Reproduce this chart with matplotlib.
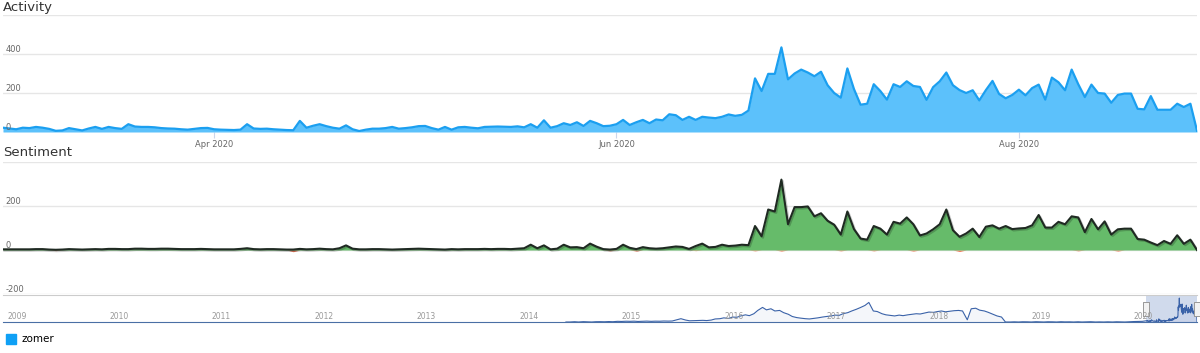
import numpy as np
import pandas as pd
import matplotlib
matplotlib.use('Agg')
import matplotlib.pyplot as plt
import matplotlib.patheffects as pe
from matplotlib.patches import Patch

# ---- data ----
dates = pd.date_range('2020-02-29', '2020-08-28', freq='D')

activity = [22, 18, 14, 22, 20, 26, 22, 16, 6, 8,
            20, 14, 8, 18, 26, 16, 26, 20, 16, 40,
            28, 26, 26, 24, 20, 18, 17, 14, 12, 16,
            20, 21, 14, 12, 11, 10, 12, 40, 18, 16,
            17, 14, 12, 10, 9, 57, 22, 32, 40, 30,
            22, 17, 34, 14, 5, 12, 17, 17, 20, 26,
            17, 20, 24, 30, 31, 20, 12, 26, 12, 24,
            26, 22, 19, 26, 27, 28, 27, 26, 29, 24,
            40, 22, 60, 22, 30, 45, 36, 50, 31, 57,
            45, 30, 32, 40, 62, 36, 50, 62, 45, 64,
            60, 91, 86, 62, 78, 62, 78, 74, 71, 78,
            90, 83, 88, 110, 275, 210, 298, 298, 434, 270,
            300, 320, 305, 286, 309, 240, 200, 176, 326, 220,
            140, 145, 245, 210, 166, 245, 231, 260, 236, 231,
            165, 230, 260, 305, 240, 215, 200, 214, 162, 215,
            262, 195, 173, 190, 217, 188, 225, 243, 166, 279,
            255, 214, 320, 245, 179, 243, 200, 197, 150, 190,
            197, 197, 119, 116, 184, 114, 114, 114, 145, 128,
            145, 7]

positive = [3, 3, 3, 3, 3, 4, 4, 2, 1, 2,
            4, 3, 2, 3, 4, 3, 5, 5, 4, 4,
            6, 6, 5, 5, 6, 6, 5, 4, 4, 4,
            5, 4, 3, 3, 3, 3, 5, 8, 4, 3,
            4, 4, 3, 2, 2, 5, 3, 4, 6, 4,
            3, 8, 21, 6, 3, 3, 4, 4, 3, 2,
            3, 4, 5, 6, 5, 4, 3, 2, 4, 3,
            4, 4, 4, 5, 4, 5, 5, 4, 6, 8,
            24, 8, 21, 3, 6, 24, 12, 13, 8, 29,
            15, 4, 2, 5, 24, 10, 4, 13, 8, 6,
            8, 12, 16, 14, 5, 18, 29, 12, 14, 24,
            18, 20, 24, 22, 109, 62, 184, 175, 320, 117,
            195, 195, 198, 153, 167, 133, 115, 70, 175, 95,
            52, 47, 109, 97, 70, 128, 120, 148, 117, 66,
            75, 94, 117, 184, 90, 60, 75, 97, 59, 106,
            112, 97, 109, 95, 98, 100, 112, 159, 102, 102,
            128, 117, 153, 148, 81, 141, 94, 130, 70, 94,
            97, 97, 50, 47, 34, 22, 41, 28, 67, 28,
            47, 0]

neg_days = [8, 44, 92, 96, 105, 114, 118, 127, 132, 138, 145, 163, 169]
neg_values = [-3, -8, -4, -5, -3, -4, -5, -4, -4, -5, -7, -4, -5]

# navigator history, twice a month before the zoomed range
nav_dates = pd.date_range('2014-07-01', '2020-02-15', freq='SMS')
nav_values = ([0, 0, 5, 0, 6, 4, 0, 5, 6, 4, 8, 5] +
              [12, 10, 14, 12, 15, 10, 14, 16, 12, 15, 14, 18,
               16, 18, 40, 60, 35, 22, 25, 28, 30, 26, 35, 55] +
              [60, 75, 65, 90, 85, 110, 130, 115, 150, 210, 265, 220,
               240, 200, 210, 170, 140, 100, 80, 70, 60, 55, 65, 75] +
              [90, 100, 110, 125, 120, 150, 170, 200, 230, 260, 300, 355,
               200, 190, 150, 130, 120, 110, 125, 115, 130, 140, 150, 145] +
              [165, 180, 175, 190, 200, 185, 195, 205, 210, 200, 40, 240,
               250, 215, 200, 175, 140, 110, 90, 0, 0, 3, 0, 4] +
              [3, 0, 5, 2, 0, 4, 3, 0, 5, 2, 3, 0,
               4, 0, 3, 5, 0, 2, 0, 3, 0, 4, 2, 0] +
              [5, 8, 10, 12])

month_ticks = pd.to_datetime(['2020-04-01', '2020-06-01', '2020-08-01'])
month_labels = ['Apr 2020', 'Jun 2020', 'Aug 2020']
year_ticks = pd.date_range('2009-01-01', '2020-01-01', freq='YS')

# ---- build frames ----
negative = np.zeros(len(dates))
negative[neg_days] = neg_values
nav = pd.concat([pd.Series(nav_values, index=nav_dates),
                 pd.Series(activity, index=dates)])

W, H = 1200, 353
fig = plt.figure(figsize=(W / 100, H / 100), dpi=100)
plt.rcParams['font.family'] = ['DejaVu Sans']

def box(x0, y0, x1, y1):
    return [x0 / W, 1 - y1 / H, (x1 - x0) / W, (y1 - y0) / H]

ax1 = fig.add_axes(box(3, 15, 1197, 132))
ax2 = fig.add_axes(box(3, 162, 1197, 294))
ax3 = fig.add_axes(box(3, 295, 1197, 322))

grid_c = '#e6e6e6'
lab_c = '#666666'

def style_panel(ax, ticks, labels):
    for s in ax.spines.values():
        s.set_visible(False)
    ax.set_yticks(ticks)
    ax.set_yticklabels([])
    ax.tick_params(axis='y', length=0)
    ax.grid(axis='y', color=grid_c, lw=1)
    ax.set_axisbelow(True)
    for v, t in zip(ticks, labels):
        if t:
            ax.text(0.002, v, t, transform=ax.get_yaxis_transform(),
                    ha='left', va='bottom', fontsize=6, color=lab_c)
    ax.set_xlim(dates[0], dates[-1])

# Activity
style_panel(ax1, [0, 200, 400, 600], ['0', '200', '400', ''])
ax1.set_ylim(0, 600)
ax1.fill_between(dates, activity, 0, color='#5cc1fb', lw=0)
ax1.plot(dates, activity, color='#1b9ff0', lw=1.6)
ax1.set_xticks(month_ticks)
ax1.set_xticklabels(month_labels, fontsize=6, color=lab_c)
ax1.tick_params(axis='x', length=4, color='#ccd6eb', pad=2)

# Sentiment
style_panel(ax2, [-200, 0, 200, 400], ['-200', '0', '200', ''])
ax2.set_ylim(-200, 400)
ax2.fill_between(dates, negative, 0, color='#f07c5c', lw=0)
ax2.fill_between(dates, positive, 0, color='#66bb6a', lw=0)
ax2.plot(dates, positive, color='#1f2a22', lw=1.5,
         path_effects=[pe.SimpleLineShadow(offset=(1, -1), alpha=0.2), pe.Normal()])
ax2.set_xticks([])

# Navigator
for s in ['left', 'right']:
    ax3.spines[s].set_visible(False)
ax3.spines['top'].set_color('#cccccc')
ax3.spines['bottom'].set_color('#4a6fa5')
ax3.set_xlim(pd.Timestamp('2009-01-01'), dates[-1])
ax3.set_ylim(0, 490)
ax3.set_yticks([])
ax3.set_xticks([])
ax3.fill_between(nav.index, nav.values, 0, color='#335cad', alpha=0.05, lw=0)
ax3.plot(nav.index, nav.values, color='#3a62a8', lw=0.8)
for d in year_ticks:
    ax3.annotate(str(d.year), (d, 0.05), xycoords=('data', 'axes fraction'),
                 xytext=(3, 0), textcoords='offset points',
                 ha='left', va='bottom', fontsize=5.5, color='#999999')
ax3.axvspan(dates[0], dates[-1], color=(102 / 255, 133 / 255, 194 / 255, 0.3), lw=0)
handle = [(-0.5, -1), (0.5, -1), (0.5, 1), (-0.5, 1), (-0.5, -1)]
ax3.plot([dates[0], dates[-1]], [0.5, 0.5], ls='none', marker=handle, markersize=10,
         markerfacecolor='#f2f2f2', markeredgecolor='#999999', markeredgewidth=0.7,
         transform=ax3.get_xaxis_transform(), clip_on=False)

# titles
fig.text(3 / W, 1 - 8 / H, 'Activity', fontsize=9.5, color='#333333', va='center', ha='left')
fig.text(3 / W, 1 - 153 / H, 'Sentiment', fontsize=9.5, color='#333333', va='center', ha='left')

# legend
fig.legend(handles=[Patch(color='#0fa0f5')], labels=['zomer'], loc='center left',
           bbox_to_anchor=(2 / W, 1 - 339 / H), frameon=False, fontsize=7.5,
           handlelength=0.9, handleheight=1.1, handletextpad=0.6, borderaxespad=0)

fig.savefig('out.png', dpi=100)
